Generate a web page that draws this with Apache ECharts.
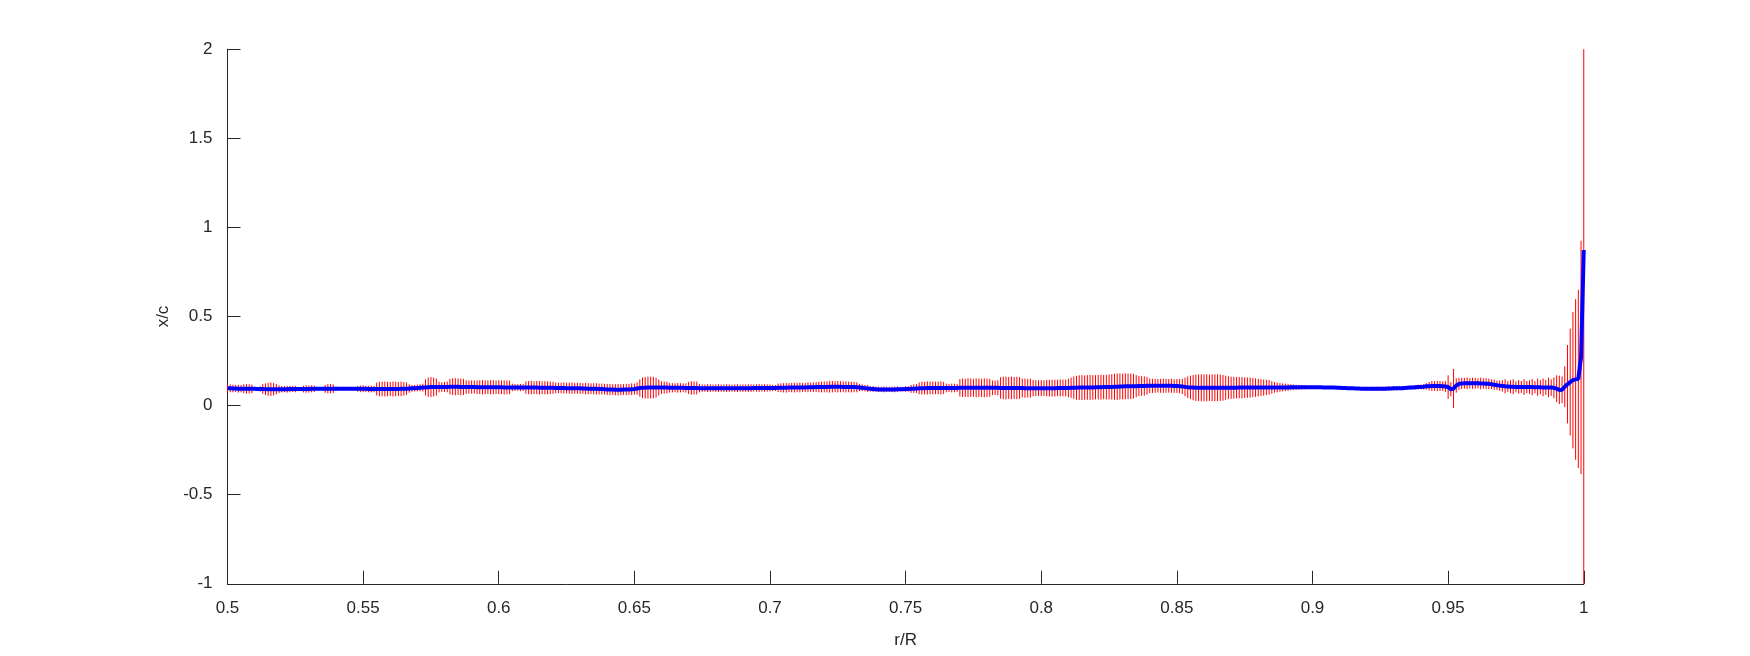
<!DOCTYPE html>
<html>
<head>
<meta charset="utf-8">
<script src="https://cdn.jsdelivr.net/npm/echarts@6.0.0/dist/echarts.min.js"></script>
<style>
  html, body { margin: 0; padding: 0; background: #ffffff; }
  #chart { width: 1750px; height: 656px; }
</style>
</head>
<body>
<div id="chart"></div>
<script>
// ---- data ----
const R_START = 0.5;      // first r/R sample
const R_STEP = 0.001;     // spacing of r/R samples

const xTicks = [0.5, 0.55, 0.6, 0.65, 0.7, 0.75, 0.8, 0.85, 0.9, 0.95, 1];
const yTicks = [-1, -0.5, 0, 0.5, 1, 1.5, 2];

// mean x/c (blue line)
const meanXc = [
  .097,.097,.096,.096,.095,.095,.095,.094,.094,.094,
  .094,.093,.093,.093,.092,.092,.092,.092,.092,.092,
  .092,.092,.092,.093,.093,.093,.093,.093,.093,.093,
  .093,.094,.094,.094,.094,.094,.094,.095,.095,.095,
  .095,.095,.095,.095,.095,.095,.094,.094,.094,.094,
  .094,.094,.093,.093,.093,.093,.093,.093,.093,.093,
  .093,.093,.093,.093,.094,.094,.095,.096,.097,.098,
  .099,.100,.101,.102,.103,.104,.104,.104,.104,.104,
  .105,.105,.106,.106,.106,.106,.105,.105,.104,.104,
  .104,.104,.103,.103,.103,.103,.103,.103,.103,.103,
  .103,.103,.102,.102,.102,.102,.102,.102,.101,.101,
  .101,.101,.101,.101,.101,.100,.100,.100,.100,.100,
  .100,.099,.099,.099,.099,.098,.098,.098,.097,.097,
  .097,.096,.096,.095,.095,.094,.094,.093,.093,.092,
  .091,.090,.090,.089,.089,.089,.090,.090,.091,.092,
  .093,.096,.099,.100,.100,.101,.101,.101,.101,.101,
  .101,.101,.101,.100,.100,.100,.100,.100,.100,.099,
  .099,.099,.099,.099,.098,.098,.098,.098,.098,.098,
  .098,.098,.098,.098,.098,.098,.098,.098,.098,.098,
  .098,.098,.098,.098,.099,.099,.099,.099,.099,.099,
  .099,.099,.099,.100,.100,.100,.100,.101,.101,.101,
  .101,.102,.102,.102,.103,.103,.103,.104,.104,.104,
  .105,.105,.106,.106,.106,.106,.106,.105,.105,.105,
  .104,.104,.103,.102,.100,.098,.096,.094,.093,.092,
  .091,.091,.091,.091,.091,.091,.091,.092,.092,.092,
  .093,.093,.094,.095,.096,.097,.098,.098,.099,.099,
  .099,.099,.099,.099,.099,.099,.099,.099,.099,.099,
  .100,.100,.100,.100,.100,.100,.100,.100,.100,.100,
  .100,.100,.100,.100,.100,.099,.099,.099,.099,.099,
  .099,.099,.099,.099,.098,.098,.098,.098,.098,.098,
  .098,.098,.098,.098,.098,.098,.099,.099,.099,.099,
  .099,.100,.100,.100,.101,.101,.101,.102,.102,.102,
  .103,.103,.103,.104,.104,.105,.105,.106,.106,.107,
  .107,.108,.108,.108,.109,.109,.110,.110,.110,.111,
  .111,.111,.111,.111,.111,.111,.111,.111,.111,.110,
  .110,.109,.107,.105,.103,.102,.101,.100,.100,.100,
  .100,.100,.100,.100,.100,.100,.100,.100,.100,.100,
  .100,.100,.100,.101,.101,.101,.101,.101,.101,.101,
  .101,.101,.101,.102,.102,.102,.102,.102,.102,.102,
  .102,.102,.103,.103,.103,.103,.103,.103,.103,.103,
  .103,.103,.103,.103,.102,.102,.102,.101,.101,.100,
  .100,.099,.099,.098,.097,.097,.096,.096,.095,.095,
  .094,.094,.094,.094,.094,.095,.095,.095,.096,.096,
  .097,.097,.098,.098,.099,.100,.101,.102,.103,.104,
  .105,.106,.108,.109,.110,.110,.110,.110,.109,.107,
  .104,.092,.096,.113,.122,.124,.125,.125,.125,.125,
  .125,.125,.124,.124,.123,.122,.120,.117,.114,.112,
  .110,.108,.107,.106,.106,.105,.105,.105,.104,.104,
  .104,.104,.103,.103,.103,.102,.102,.102,.101,.100,
  .095,.088,.089,.106,.120,.132,.143,.147,.150,.270,
  .873
];

// half-width of the error bars (red)
const errXc = [
  .020,.022,.021,.019,.022,.021,.025,.027,.026,.024,
  .009,.007,.015,.027,.033,.037,.038,.035,.029,.022,
  .018,.017,.019,.018,.016,.018,.012,.011,.019,.021,
  .020,.019,.018,.009,.007,.008,.022,.026,.027,.024,
  .012,.009,.008,.007,.008,.007,.009,.010,.016,.018,
  .019,.017,.018,.019,.018,.036,.040,.041,.042,.041,
  .040,.042,.041,.040,.041,.038,.035,.024,.019,.018,
  .019,.020,.022,.045,.054,.056,.053,.048,.030,.027,
  .028,.030,.044,.047,.048,.046,.047,.045,.038,.037,
  .037,.036,.038,.039,.040,.039,.038,.040,.039,.038,
  .039,.038,.040,.039,.038,.021,.019,.018,.020,.019,
  .035,.037,.038,.036,.037,.038,.036,.037,.036,.035,
  .034,.030,.029,.030,.031,.029,.031,.032,.030,.031,
  .031,.030,.032,.031,.030,.031,.032,.030,.031,.030,
  .031,.032,.030,.031,.032,.031,.030,.032,.031,.033,
  .031,.035,.048,.058,.060,.062,.061,.060,.055,.045,
  .035,.034,.033,.027,.026,.025,.027,.026,.025,.026,
  .034,.038,.037,.036,.024,.021,.020,.022,.021,.020,
  .021,.022,.020,.021,.022,.021,.020,.021,.022,.020,
  .021,.020,.022,.021,.020,.021,.022,.020,.021,.020,
  .020,.018,.017,.024,.025,.026,.027,.025,.026,.027,
  .026,.027,.025,.026,.028,.026,.027,.028,.029,.030,
  .030,.031,.033,.032,.031,.032,.031,.030,.031,.030,
  .030,.029,.028,.020,.019,.018,.019,.015,.016,.014,
  .015,.014,.016,.015,.014,.015,.016,.015,.012,.011,
  .016,.015,.022,.024,.025,.033,.036,.035,.037,.036,
  .036,.035,.036,.037,.034,.024,.023,.025,.024,.022,
  .049,.052,.051,.053,.052,.050,.053,.052,.051,.053,
  .052,.050,.041,.040,.042,.060,.063,.064,.062,.063,
  .062,.063,.061,.053,.054,.052,.053,.046,.045,.044,
  .045,.044,.046,.047,.048,.047,.046,.048,.047,.046,
  .052,.057,.063,.067,.069,.070,.068,.069,.070,.069,
  .068,.069,.070,.068,.069,.070,.071,.073,.074,.073,
  .072,.073,.072,.071,.069,.062,.057,.055,.054,.050,
  .041,.040,.039,.038,.039,.040,.039,.038,.039,.038,
  .039,.040,.043,.052,.060,.066,.071,.074,.075,.076,
  .075,.076,.074,.075,.076,.075,.074,.072,.068,.064,
  .062,.061,.060,.059,.060,.058,.057,.056,.054,.052,
  .049,.047,.045,.043,.041,.035,.030,.027,.025,.023,
  .021,.019,.017,.015,.014,.013,.012,.011,.009,.008,
  .008,.007,.008,.007,.008,.007,.006,.007,.006,.007,
  .006,.007,.006,.007,.008,.007,.008,.009,.008,.010,
  .011,.010,.012,.011,.012,.010,.011,.012,.011,.010,
  .012,.011,.010,.011,.009,.010,.011,.010,.012,.013,
  .013,.015,.018,.024,.028,.027,.029,.028,.027,.030,
  .066,.040,.110,.040,.034,.031,.030,.033,.029,.031,
  .030,.028,.033,.029,.031,.030,.027,.029,.026,.028,
  .032,.040,.030,.036,.042,.031,.038,.033,.044,.035,
  .038,.045,.034,.048,.040,.050,.042,.055,.046,.058,
  .075,.080,.075,.114,.220,.300,.383,.451,.500,.655,
  2.500
];

// ---- build ----
const rR = meanXc.map((_, i) => +(R_START + i * R_STEP).toFixed(3));
const lineData = rR.map((r, i) => [r, meanXc[i]]);
const barData = rR.map((r, i) => [r, meanXc[i], errXc[i]]);
const X_MIN = xTicks[0], X_MAX = xTicks[xTicks.length - 1];
const Y_MIN = yTicks[0], Y_MAX = yTicks[yTicks.length - 1];

const AX = '#262626';
const FONT = 'Liberation Sans, Arial, Helvetica, sans-serif';

const chart = echarts.init(document.getElementById('chart'), null, { renderer: 'canvas' });
chart.setOption({
  animation: false,
  backgroundColor: '#ffffff',
  grid: { left: 227.5, top: 49.2, width: 1356.25, height: 534.6, containLabel: false },
  xAxis: {
    type: 'value', min: X_MIN, max: X_MAX, interval: 0.05,
    name: 'r/R', nameLocation: 'middle', nameGap: 48,
    nameTextStyle: { color: AX, fontSize: 17, fontFamily: FONT },
    axisLine: { show: true, onZero: false, lineStyle: { color: AX, width: 1 } },
    axisTick: { show: true, inside: true, length: 13, lineStyle: { color: AX, width: 1 } },
    axisLabel: { color: AX, fontSize: 17, fontFamily: FONT, margin: 16,
      formatter: v => String(+v.toFixed(2)) },
    splitLine: { show: false }
  },
  yAxis: {
    type: 'value', min: Y_MIN, max: Y_MAX, interval: 0.5,
    name: 'x/c', nameLocation: 'middle', nameGap: 55, nameRotate: 90,
    nameTextStyle: { color: AX, fontSize: 17, fontFamily: FONT },
    axisLine: { show: true, onZero: false, lineStyle: { color: AX, width: 1 } },
    axisTick: { show: true, inside: true, length: 13, lineStyle: { color: AX, width: 1 } },
    axisLabel: { color: AX, fontSize: 17, fontFamily: FONT, margin: 15,
      formatter: v => String(+v.toFixed(2)) },
    splitLine: { show: false }
  },
  series: [
    {
      type: 'custom',
      data: barData,
      z: 2,
      renderItem: function (params, api) {
        const x = api.value(0), m = api.value(1), e = api.value(2);
        const hi = Math.min(m + e, Y_MAX), lo = Math.max(m - e, Y_MIN);
        const p1 = api.coord([x, hi]);
        const p2 = api.coord([x, lo]);
        return {
          type: 'line',
          shape: { x1: p1[0], y1: p1[1], x2: p2[0], y2: p2[1] },
          style: { stroke: '#ff0000', lineWidth: 1 }
        };
      }
    },
    {
      type: 'line',
      data: lineData,
      z: 3,
      showSymbol: false,
      symbol: 'none',
      lineStyle: { color: '#0000ff', width: 4 },
      itemStyle: { color: '#0000ff' }
    }
  ]
});
</script>
</body>
</html>
